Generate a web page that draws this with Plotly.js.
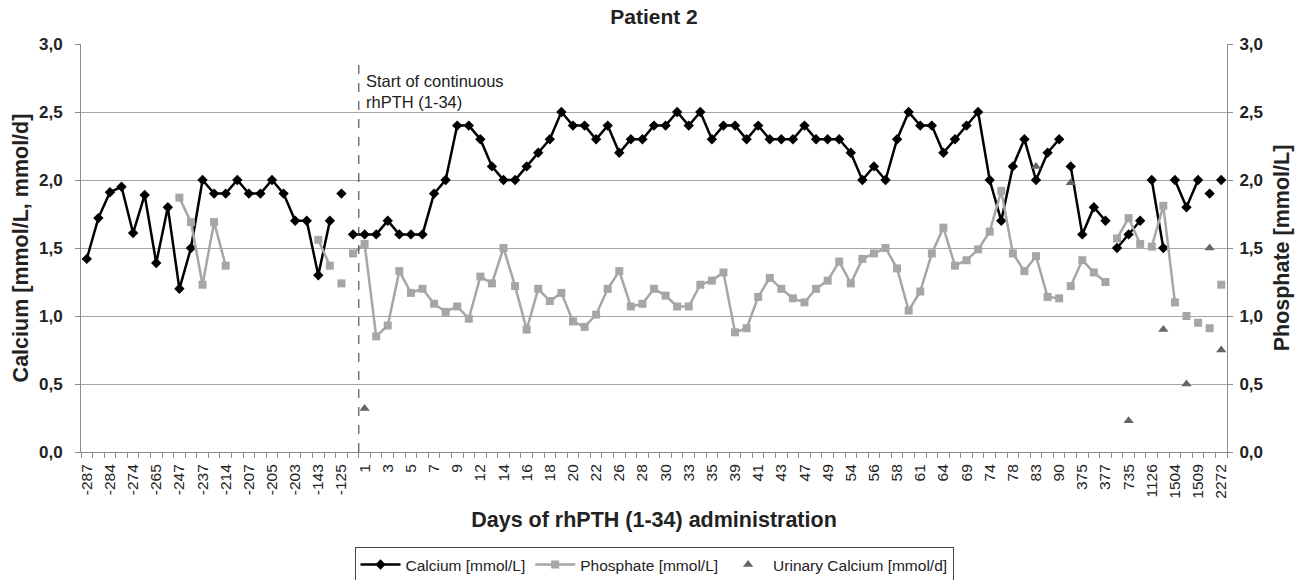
<!DOCTYPE html>
<html>
<head>
<meta charset="utf-8">
<script src="https://cdn.plot.ly/plotly-3.0.1.min.js"></script>
<style>html,body{margin:0;padding:0;background:#fff;}#chart{width:1303px;height:580px;}</style>
</head>
<body>
<div id="chart"></div>
<script>
// Day categories (every other one is labelled on the axis)
var categories = ["-287","-286","-284","-280","-274","-270","-265","-256","-247","-240",
  "-237","-221","-214","-210","-207","-206","-205","-204","-203","-150",
  "-143","-130","-125","0","1","2","3","4","5","6",
  "7","8","9","10","12","13","14","15","16","17",
  "18","19","20","21","22","24","26","27","28","29",
  "30","32","33","34","35","37","39","40","41","42",
  "43","45","47","48","49","52","54","55","56","57",
  "58","60","61","63","64","67","69","72","74","76",
  "78","80","83","86","90","370","375","376","377","730",
  "735","740","1126","1130","1504","1506","1509","2270","2272"];

var calcium = [1.42,1.72,1.91,1.95,1.61,1.89,1.39,1.80,1.20,1.50,
  2.00,1.90,1.90,2.00,1.90,1.90,2.00,1.90,1.70,1.70,
  1.30,1.70,1.90,1.60,1.60,1.60,1.70,1.60,1.60,1.60,
  1.90,2.00,2.40,2.40,2.30,2.10,2.00,2.00,2.10,2.20,
  2.30,2.50,2.40,2.40,2.30,2.40,2.20,2.30,2.30,2.40,
  2.40,2.50,2.40,2.50,2.30,2.40,2.40,2.30,2.40,2.30,
  2.30,2.30,2.40,2.30,2.30,2.30,2.20,2.00,2.10,2.00,
  2.30,2.50,2.40,2.40,2.20,2.30,2.40,2.50,2.00,1.70,
  2.10,2.30,2.00,2.20,2.30,2.10,1.60,1.80,1.70,1.50,
  1.60,1.70,2.00,1.50,2.00,1.80,2.00,1.90,2.00];

var phosphate = [null,null,null,null,null,null,null,null,1.87,1.69,
  1.23,1.69,1.37,null,null,null,null,null,null,null,
  1.56,1.37,1.24,1.46,1.53,0.85,0.93,1.33,1.17,1.20,
  1.09,1.03,1.07,0.98,1.29,1.24,1.50,1.22,0.90,1.20,
  1.11,1.17,0.96,0.92,1.01,1.20,1.33,1.07,1.09,1.20,
  1.15,1.07,1.07,1.23,1.26,1.32,0.88,0.91,1.14,1.28,
  1.20,1.13,1.10,1.20,1.26,1.40,1.24,1.42,1.46,1.50,
  1.35,1.04,1.18,1.46,1.65,1.37,1.41,1.49,1.62,1.92,
  1.46,1.33,1.44,1.14,1.13,1.22,1.41,1.32,1.25,1.57,
  1.72,1.53,1.51,1.81,1.10,1.00,0.95,0.91,1.23];

// Urinary calcium: only measured on some days
var urinaryDays = ["1","83","370","735","1130","1506","2270","2272"];
var urinaryCalcium = [0.32,2.10,1.98,0.23,0.90,0.50,1.50,0.75];

// Categories at which a new line segment begins (separate series segments in the original)
var calciumBreaks = ["-125","0","370","730","1126","1504","2270","2272"];
var phosphateBreaks = ["-143","-125","0","370","730","1126","1506","1509","2270","2272"];

var tickLabels = categories.filter(function(c,i){return i%2===0;});
var startDay = "1";

function segmented(values, breaks){
  var xs=[], ys=[];
  var bIdx = breaks.map(function(b){return categories.indexOf(b);});
  for (var i=0;i<categories.length;i++){
    if (bIdx.indexOf(i)>=0){ xs.push(i-0.5); ys.push(null); }
    xs.push(i); ys.push(values[i]);
  }
  return {x:xs, y:ys};
}

var ca = segmented(calcium, calciumBreaks);
var ph = segmented(phosphate, phosphateBreaks);

var font = "Liberation Sans, Arial, sans-serif";

var traces = [
  {x: ca.x, y: ca.y, name: "Calcium [mmol/L]", type: "scatter", mode: "lines+markers",
   connectgaps: false,
   line: {color: "#000000", width: 2.5},
   marker: {symbol: "diamond", size: 8, color: "#000000"}},
  {x: ph.x, y: ph.y, name: "Phosphate [mmol/L]", type: "scatter", mode: "lines+markers",
   connectgaps: false, yaxis: "y2",
   line: {color: "#a6a6a6", width: 2.5},
   marker: {symbol: "square", size: 8, color: "#a6a6a6"}},
  {x: urinaryDays.map(function(d){return categories.indexOf(d);}), y: urinaryCalcium,
   name: "Urinary Calcium [mmol/d]", type: "scatter", mode: "markers",
   marker: {symbol: "triangle-up", size: 9, color: "#666666"}}
];

var startX = categories.indexOf(startDay) - 0.5;

var layout = {
  width: 1303, height: 580,
  margin: {l: 81, r: 76, t: 44, b: 128},
  paper_bgcolor: "#ffffff", plot_bgcolor: "#ffffff",
  separators: ",.",
  showlegend: true,
  font: {family: font, color: "#222"},
  title: {text: "Patient 2", font: {family: font, size: 21, weight: "bold", color: "#222"},
          x: 0.5, xref: "paper", y: 0.972, yanchor: "middle"},
  xaxis: {
    range: [-0.5, categories.length - 0.5],
    tickmode: "array",
    tickvals: categories.map(function(c,i){return i;}).filter(function(i){return i%2===0;}),
    ticktext: tickLabels,
    tickangle: -90,
    ticks: "",
    ticklabelstandoff: 5,
    tickfont: {family: font, size: 15.5, color: "#222"},
    showgrid: false, zeroline: false,
    showline: true, linecolor: "#8c8c8c", linewidth: 1,
    minor: {tick0: -0.5, dtick: 1, ticks: "outside", ticklen: 5, tickcolor: "#8c8c8c", showgrid: false},
    title: {text: "Days of rhPTH (1-34) administration", standoff: 14,
            font: {family: font, size: 21.5, weight: "bold", color: "#222"}},
    automargin: false,
    fixedrange: true
  },
  yaxis: {
    range: [0, 3], dtick: 0.5, tick0: 0, tickformat: ".1f",
    ticks: "outside", ticklen: 5, tickcolor: "#8c8c8c",
    ticklabelstandoff: 9,
    tickfont: {family: font, size: 17, weight: "bold", color: "#222"},
    showgrid: true, gridcolor: "#a6a6a6", gridwidth: 1, zeroline: false,
    showline: true, linecolor: "#8c8c8c", linewidth: 1,
    title: {text: "Calcium [mmol/L, mmol/d]", standoff: 4,
            font: {family: font, size: 21.5, weight: "bold", color: "#222"}},
    automargin: false,
    fixedrange: true
  },
  yaxis2: {
    overlaying: "y", side: "right",
    range: [0, 3], dtick: 0.5, tick0: 0, tickformat: ".1f",
    ticks: "outside", ticklen: 5, tickcolor: "#8c8c8c",
    ticklabelstandoff: 3,
    tickfont: {family: font, size: 17, weight: "bold", color: "#222"},
    showgrid: false, zeroline: false,
    showline: true, linecolor: "#8c8c8c", linewidth: 1,
    title: {text: "Phosphate [mmol/L]", standoff: 11,
            font: {family: font, size: 21.5, weight: "bold", color: "#222"}},
    automargin: false,
    fixedrange: true
  },
  legend: {
    orientation: "h", x: 0.5, xanchor: "center",
    yref: "container", y: 0.057, yanchor: "top",
    bordercolor: "#444", borderwidth: 1, bgcolor: "#fff",
    font: {family: font, size: 15.5, color: "#222"},
    itemwidth: 40, tracegroupgap: 0
  },
  shapes: [{
    type: "line", xref: "x", yref: "y",
    x0: startX, x1: startX, y0: 0, y1: 2.88,
    line: {color: "#333", width: 1, dash: "dash"}
  }],
  annotations: [{
    xref: "x", yref: "y", x: startX, y: 2.65, xanchor: "left", yanchor: "middle",
    xshift: 5, align: "left", showarrow: false,
    text: "Start of continuous<br>rhPTH (1-34)",
    font: {family: font, size: 16.5, color: "#222"}
  }]
};

Plotly.newPlot("chart", traces, layout, {displayModeBar: false, staticPlot: true});
</script>
</body>
</html>
